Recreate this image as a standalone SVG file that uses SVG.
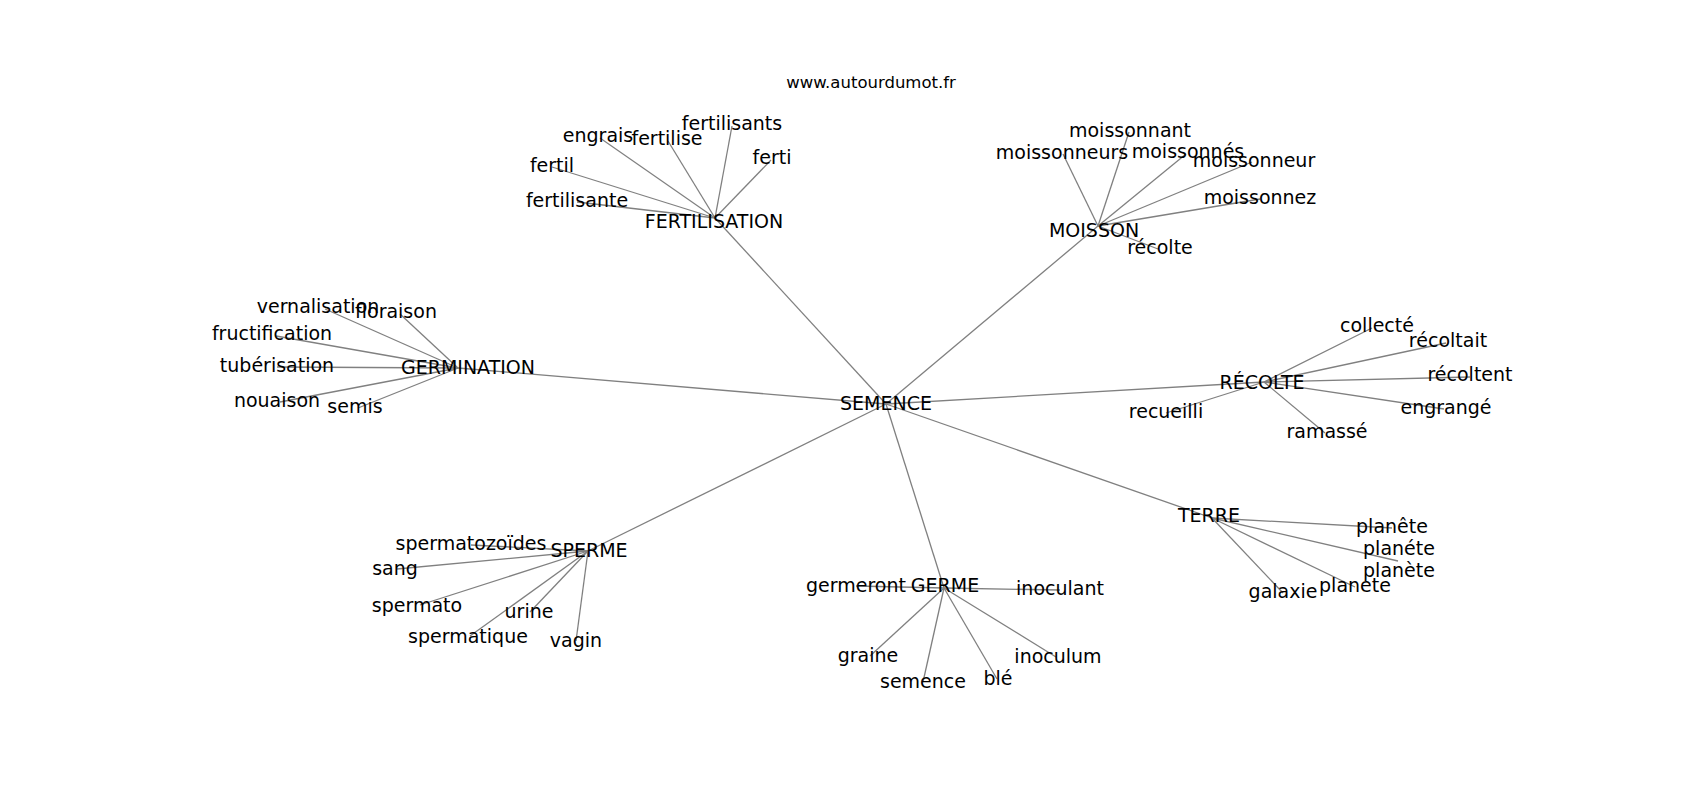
<svg xmlns="http://www.w3.org/2000/svg" width="1700" height="800" viewBox="0 0 1700 800">
<style>
text{font-family:"DejaVu Sans","Liberation Sans",sans-serif;fill:#000;text-anchor:middle}
.n text{font-size:19px}
.t{font-size:16.5px}
#edges line{stroke:#808080;stroke-width:1.3;fill:none}
</style>
<rect width="1700" height="800" fill="#fff"/>
<text class="t" x="871" y="88">www.autourdumot.fr</text>
<g id="edges">
<line x1="886" y1="404" x2="715" y2="218"/>
<line x1="886" y1="404" x2="1098" y2="226"/>
<line x1="886" y1="404" x2="458" y2="368"/>
<line x1="886" y1="404" x2="1264" y2="382"/>
<line x1="886" y1="404" x2="1212" y2="518"/>
<line x1="886" y1="404" x2="944" y2="588"/>
<line x1="886" y1="404" x2="588" y2="551"/>
<line x1="715" y1="218" x2="732" y2="126"/>
<line x1="715" y1="218" x2="600" y2="138"/>
<line x1="715" y1="218" x2="668" y2="141"/>
<line x1="715" y1="218" x2="771" y2="160"/>
<line x1="715" y1="218" x2="552" y2="167"/>
<line x1="715" y1="218" x2="577" y2="202"/>
<line x1="1098" y1="226" x2="1129" y2="132"/>
<line x1="1098" y1="226" x2="1063" y2="154"/>
<line x1="1098" y1="226" x2="1186" y2="154"/>
<line x1="1098" y1="226" x2="1252" y2="162"/>
<line x1="1098" y1="226" x2="1260" y2="199"/>
<line x1="1098" y1="226" x2="1158" y2="249"/>
<line x1="458" y1="368" x2="325" y2="309"/>
<line x1="458" y1="368" x2="400" y2="314"/>
<line x1="458" y1="368" x2="276" y2="336"/>
<line x1="458" y1="368" x2="277" y2="367"/>
<line x1="458" y1="368" x2="280" y2="402"/>
<line x1="458" y1="368" x2="358" y2="408"/>
<line x1="1264" y1="382" x2="1372" y2="328"/>
<line x1="1264" y1="382" x2="1446" y2="343"/>
<line x1="1264" y1="382" x2="1470" y2="377"/>
<line x1="1264" y1="382" x2="1444" y2="409"/>
<line x1="1264" y1="382" x2="1325" y2="433"/>
<line x1="1264" y1="382" x2="1166" y2="413"/>
<line x1="1212" y1="518" x2="1392" y2="528"/>
<line x1="1212" y1="518" x2="1398" y2="561"/>
<line x1="1212" y1="518" x2="1355" y2="587"/>
<line x1="1212" y1="518" x2="1283" y2="593"/>
<line x1="944" y1="588" x2="856" y2="586"/>
<line x1="944" y1="588" x2="1060" y2="590"/>
<line x1="944" y1="588" x2="870" y2="656"/>
<line x1="944" y1="588" x2="923" y2="682"/>
<line x1="944" y1="588" x2="997" y2="679"/>
<line x1="944" y1="588" x2="1056" y2="657"/>
<line x1="588" y1="551" x2="471" y2="545"/>
<line x1="588" y1="551" x2="397" y2="569"/>
<line x1="588" y1="551" x2="420" y2="605"/>
<line x1="588" y1="551" x2="530" y2="612"/>
<line x1="588" y1="551" x2="470" y2="636"/>
<line x1="588" y1="551" x2="576" y2="641"/>
</g>
<g class="n" id="n-semence"><text x="886" y="410">SEMENCE</text></g>
<g class="n" id="n-fertilisation"><text x="714" y="228">FERTILISATION</text></g>
<g class="n" id="n-moisson"><text x="1094" y="237">MOISSON</text></g>
<g class="n" id="n-germination"><text x="468" y="374">GERMINATION</text></g>
<g class="n" id="n-recolte"><text x="1262" y="389">RÉCOLTE</text></g>
<g class="n" id="n-terre"><text x="1209" y="522">TERRE</text></g>
<g class="n" id="n-germe"><text x="945" y="592">GERME</text></g>
<g class="n" id="n-sperme"><text x="589" y="557">SPERME</text></g>
<g class="n" id="n-fertilisants"><text x="732" y="130">fertilisants</text></g>
<g class="n" id="n-engrais"><text x="598" y="142">engrais</text></g>
<g class="n" id="n-fertilise"><text x="667" y="145">fertilise</text></g>
<g class="n" id="n-ferti"><text x="772" y="164">ferti</text></g>
<g class="n" id="n-fertil"><text x="552" y="172">fertil</text></g>
<g class="n" id="n-fertilisante"><text x="577" y="207">fertilisante</text></g>
<g class="n" id="n-moissonnant"><text x="1130" y="137">moissonnant</text></g>
<g class="n" id="n-moissonneurs"><text x="1062" y="159">moissonneurs</text></g>
<g class="n" id="n-moissonnes"><text x="1188" y="158">moissonnés</text></g>
<g class="n" id="n-moissonneur"><text x="1254" y="167">moissonneur</text></g>
<g class="n" id="n-moissonnez"><text x="1260" y="204">moissonnez</text></g>
<g class="n" id="n-recolte-leaf"><text x="1160" y="254">récolte</text></g>
<g class="n" id="n-vernalisation"><text x="318" y="313">vernalisation</text></g>
<g class="n" id="n-floraison"><text x="396" y="318">floraison</text></g>
<g class="n" id="n-fructification"><text x="272" y="340">fructification</text></g>
<g class="n" id="n-tuberisation"><text x="277" y="372">tubérisation</text></g>
<g class="n" id="n-nouaison"><text x="277" y="407">nouaison</text></g>
<g class="n" id="n-semis"><text x="355" y="413">semis</text></g>
<g class="n" id="n-collecte"><text x="1377" y="332">collecté</text></g>
<g class="n" id="n-recoltait"><text x="1448" y="347">récoltait</text></g>
<g class="n" id="n-recoltent"><text x="1470" y="381">récoltent</text></g>
<g class="n" id="n-engrange"><text x="1446" y="414">engrangé</text></g>
<g class="n" id="n-ramasse"><text x="1327" y="438">ramassé</text></g>
<g class="n" id="n-recueilli"><text x="1166" y="418">recueilli</text></g>
<g class="n" id="n-planete1"><text x="1392" y="533">planête</text></g>
<g class="n" id="n-planete2"><text x="1399" y="555">planéte</text></g>
<g class="n" id="n-planete3"><text x="1399" y="577">planète</text></g>
<g class="n" id="n-planete4"><text x="1355" y="592">planete</text></g>
<g class="n" id="n-galaxie"><text x="1283" y="598">galaxie</text></g>
<g class="n" id="n-germeront"><text x="856" y="592">germeront</text></g>
<g class="n" id="n-inoculant"><text x="1060" y="595">inoculant</text></g>
<g class="n" id="n-graine"><text x="868" y="662">graine</text></g>
<g class="n" id="n-semence-leaf"><text x="923" y="688">semence</text></g>
<g class="n" id="n-ble"><text x="998" y="685">blé</text></g>
<g class="n" id="n-inoculum"><text x="1058" y="663">inoculum</text></g>
<g class="n" id="n-spermatozoides"><text x="471" y="550">spermatozoïdes</text></g>
<g class="n" id="n-sang"><text x="395" y="575">sang</text></g>
<g class="n" id="n-spermato"><text x="417" y="612">spermato</text></g>
<g class="n" id="n-urine"><text x="529" y="618">urine</text></g>
<g class="n" id="n-spermatique"><text x="468" y="643">spermatique</text></g>
<g class="n" id="n-vagin"><text x="576" y="647">vagin</text></g>
</svg>
